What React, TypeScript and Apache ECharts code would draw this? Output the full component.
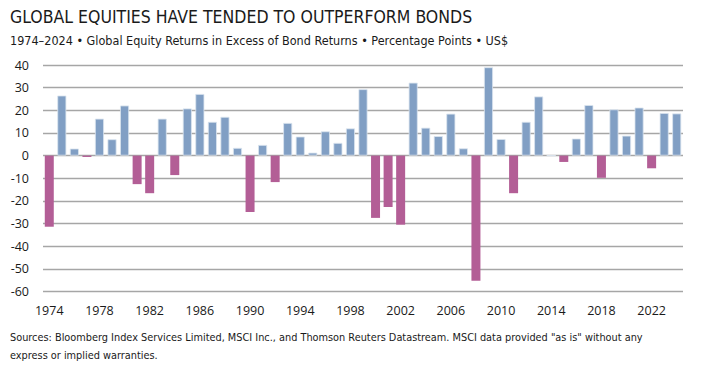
import React, { useEffect, useRef } from "react";
import * as echarts from "echarts";

const years: string[] = [];
for (let y = 1974; y <= 2024; y++) years.push(String(y));

const excessReturns: number[] = [
  -31.4, 26.5, 3.1, -0.6, 16.3, 7.2, 22.1, -12.6, -16.6, 16.3,
  -8.6, 20.8, 27.2, 14.9, 17.1, 3.4, -24.9, 4.7, -11.7, 14.4,
  8.4, 1.3, 10.7, 5.6, 12.0, 29.3, -27.5, -22.7, -30.5, 32.2,
  12.3, 8.6, 18.5, 3.2, -55.2, 39.0, 7.3, -16.6, 14.9, 26.1,
  0, -2.8, 7.5, 22.3, -9.8, 20.4, 8.8, 21.2, -5.6, 18.8,
  18.6,
];

const titleText = "GLOBAL EQUITIES HAVE TENDED TO OUTPERFORM BONDS";
const subtitleText =
  "1974–2024 • Global Equity Returns in Excess of Bond Returns • Percentage Points • US$";
const sourceLine1 =
  'Sources: Bloomberg Index Services Limited, MSCI Inc., and Thomson Reuters Datastream. MSCI data provided "as is" without any';
const sourceLine2 = "express or implied warranties.";

const POS_COLOR = "#819fc4";
const NEG_COLOR = "#b35e96";
const NARROW = "Liberation Sans Narrow, DejaVu Sans Condensed, sans-serif";

export default function App() {
  const ref = useRef<HTMLDivElement>(null);
  useEffect(() => {
    document.body.style.margin = "0";
    if (!ref.current) return;
    const chart = echarts.init(ref.current, null, { renderer: "svg" });
    chart.setOption({
      animation: false,
      backgroundColor: "#ffffff",
      grid: { left: 43, top: 65, width: 640, height: 226.5, containLabel: false },
      xAxis: {
        type: "category",
        data: years,
        axisLine: { show: false },
        axisTick: { show: false },
        axisLabel: {
          interval: 3,
          color: "#1a1a1a",
          fontSize: 12.5,
          fontFamily: "Open Sans",
          margin: 12,
        },
      },
      yAxis: {
        type: "value",
        min: -60,
        max: 40,
        interval: 10,
        axisLine: { show: false },
        axisTick: { show: false },
        axisLabel: {
          color: "#1a1a1a",
          fontSize: 12.5,
          fontFamily: "Open Sans",
          margin: 14,
        },
        splitLine: { lineStyle: { color: "#a6a6a6", width: 1.3 } },
      },
      series: [
        {
          type: "bar",
          barWidth: 9,
          data: excessReturns.map((v) => ({
            value: v,
            itemStyle:
              v >= 0
                ? { color: POS_COLOR, borderColor: "#dbe4ef", borderWidth: 0.8 }
                : { color: NEG_COLOR },
          })),
        },
      ],
      graphic: [
        {
          type: "text",
          left: 10,
          top: 8,
          style: {
            text: titleText,
            fontSize: 17.5,
            fontFamily: NARROW,
            fill: "#1a1a1a",
          },
        },
        {
          type: "text",
          left: 10,
          top: 34,
          style: {
            text: subtitleText,
            fontSize: 12.5,
            fontFamily: NARROW,
            fill: "#1a1a1a",
          },
        },
        {
          type: "text",
          left: 10,
          top: 332,
          style: {
            text: sourceLine1,
            fontSize: 10.85,
            fontFamily: NARROW,
            fill: "#1a1a1a",
          },
        },
        {
          type: "text",
          left: 10,
          top: 350,
          style: {
            text: sourceLine2,
            fontSize: 10.85,
            fontFamily: NARROW,
            fill: "#1a1a1a",
          },
        },
      ],
    });
    return () => chart.dispose();
  }, []);
  return <div ref={ref} style={{ width: 715, height: 377 }} />;
}
